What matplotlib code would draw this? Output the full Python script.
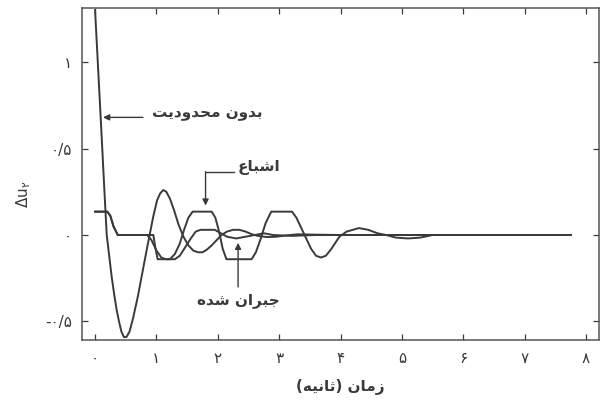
import numpy as np
import matplotlib.pyplot as plt

# --- data (time in s, value of delta u2) ---
t_free = [0.0, 0.05, 0.10, 0.15, 0.19, 0.23, 0.27, 0.31, 0.35, 0.39, 0.43, 0.47, 0.51,
          0.56, 0.62, 0.70, 0.78, 0.85, 0.90, 0.95, 1.01, 1.06, 1.11, 1.16, 1.22, 1.29,
          1.36, 1.44, 1.52, 1.60, 1.68, 1.75, 1.82, 1.90, 1.98, 2.06, 2.15, 2.25, 2.35,
          2.45, 2.55, 2.65, 2.80, 2.95, 3.10, 3.30, 3.60, 4.00, 7.75]
v_free = [1.30, 0.96, 0.62, 0.27, 0.0, -0.12, -0.24, -0.34, -0.43, -0.50, -0.56, -0.59,
          -0.59, -0.56, -0.48, -0.35, -0.20, -0.07, 0.02, 0.11, 0.20, 0.24, 0.26, 0.25,
          0.21, 0.14, 0.06, -0.01, -0.06, -0.09, -0.10, -0.10, -0.085, -0.06, -0.03,
          0.0, 0.02, 0.03, 0.03, 0.02, 0.005, -0.005, -0.012, -0.01, -0.003, 0.004,
          0.002, 0.0, 0.0]

t_sat = [0.0, 0.20, 0.25, 0.30, 0.37, 0.95, 0.98, 1.02, 1.22, 1.30, 1.38, 1.45, 1.52,
         1.59, 1.90, 1.96, 2.02, 2.08, 2.14, 2.55, 2.62, 2.70, 2.78, 2.87, 3.21, 3.28,
         3.36, 3.44, 3.52, 3.60, 3.68, 3.76, 3.85, 3.98, 4.10, 4.30, 4.45, 4.60, 4.74,
         4.90, 5.10, 5.30, 5.50, 7.75]
v_sat = [0.135, 0.135, 0.11, 0.05, 0.0, 0.0, -0.07, -0.14, -0.14, -0.11, -0.05, 0.03,
         0.10, 0.135, 0.135, 0.10, 0.02, -0.08, -0.14, -0.14, -0.10, -0.02, 0.07, 0.135,
         0.135, 0.10, 0.04, -0.02, -0.08, -0.12, -0.13, -0.12, -0.08, -0.01, 0.02, 0.04,
         0.03, 0.01, 0.0, -0.015, -0.02, -0.015, 0.0, 0.0]

t_comp = [0.0, 0.20, 0.25, 0.30, 0.37, 0.85, 0.92, 1.00, 1.08, 1.15, 1.30, 1.38, 1.47,
          1.56, 1.64, 1.72, 1.95, 2.05, 2.15, 2.30, 2.45, 2.60, 2.75, 2.90, 3.20, 3.60,
          7.75]
v_comp = [0.135, 0.135, 0.11, 0.05, 0.0, 0.0, -0.03, -0.09, -0.13, -0.14, -0.14, -0.12,
          -0.07, -0.02, 0.02, 0.03, 0.03, 0.01, -0.01, -0.02, -0.01, 0.0, 0.01, 0.0,
          -0.005, 0.0, 0.0]

x_ticks = [0, 1, 2, 3, 4, 5, 6, 7, 8]
x_ticklabels = ['۰', '۱', '۲', '۳', '۴', '۵', '۶', '۷', '۸']
y_ticks = [-0.5, 0, 0.5, 1]
y_ticklabels = ['-۰/۵', '۰', '۰/۵', '۱']

label_free = 'بدون محدودیت'
label_sat = 'اشباع'
label_comp = 'جبران شده'
x_label = 'زمان (ثانیه)'

# minimal arabic/persian shaping (matplotlib has no bidi / joining)
FORMS = {
    'ا': ('\uFE8D', '\uFE8E', None, None),
    'ب': ('\uFE8F', '\uFE90', '\uFE91', '\uFE92'),
    'ت': ('\uFE95', '\uFE96', '\uFE97', '\uFE98'),
    'ث': ('\uFE99', '\uFE9A', '\uFE9B', '\uFE9C'),
    'ج': ('\uFE9D', '\uFE9E', '\uFE9F', '\uFEA0'),
    'ح': ('\uFEA1', '\uFEA2', '\uFEA3', '\uFEA4'),
    'د': ('\uFEA9', '\uFEAA', None, None),
    'ر': ('\uFEAD', '\uFEAE', None, None),
    'ز': ('\uFEAF', '\uFEB0', None, None),
    'ش': ('\uFEB5', '\uFEB6', '\uFEB7', '\uFEB8'),
    'ع': ('\uFEC9', '\uFECA', '\uFECB', '\uFECC'),
    'م': ('\uFEE1', '\uFEE2', '\uFEE3', '\uFEE4'),
    'ن': ('\uFEE5', '\uFEE6', '\uFEE7', '\uFEE8'),
    'ه': ('\uFEE9', '\uFEEA', '\uFEEB', '\uFEEC'),
    'و': ('\uFEED', '\uFEEE', None, None),
    'ی': ('\uFBFC', '\uFBFD', '\uFEF3', '\uFEF4'),
}


def fa(s):
    out = []
    for i, ch in enumerate(s):
        if ch not in FORMS:
            out.append(ch)
            continue
        prev = s[i - 1] if i > 0 else ''
        nxt = s[i + 1] if i + 1 < len(s) else ''
        jp = prev in FORMS and FORMS[prev][2] is not None
        jn = FORMS[ch][2] is not None and nxt in FORMS
        iso, fin, ini, med = FORMS[ch]
        out.append(med if (jp and jn) else ini if jn else fin if jp else iso)
    return ''.join(reversed(out)).translate(str.maketrans('()', ')('))


plt.rcParams['font.family'] = ['DejaVu Sans']
ink = '#3a3a3a'
fig = plt.figure(figsize=(6.02, 4.0), dpi=100)
ax = fig.add_axes([0.136, 0.15, 0.859, 0.829])

ax.plot(t_free, v_free, color=ink, lw=1.4)
ax.plot(t_sat, v_sat, color=ink, lw=1.4)
ax.plot(t_comp, v_comp, color=ink, lw=1.4)

ax.set_xlim(-0.215, 8.21)
ax.set_ylim(-0.607, 1.31)
ax.set_xticks(x_ticks)
ax.set_xticklabels(x_ticklabels)
ax.set_yticks(y_ticks)
ax.set_yticklabels(y_ticklabels)
ax.tick_params(direction='in', length=4.5, width=0.9, colors=ink, labelsize=11,
               top=True, right=True)
ax.tick_params(axis='x', pad=8)
ax.tick_params(axis='y', pad=7)
for sp in ax.spines.values():
    sp.set_color('#555555')
    sp.set_linewidth(1.1)

tfont = dict(fontsize=11, fontweight='bold', color=ink)
ax.set_xlabel(fa(x_label), labelpad=9, **tfont)
ax.set_ylabel(r'$\Delta \mathrm{u}_{\mathrm{۲}}$', fontsize=11, color=ink)
ax.yaxis.set_label_coords(-0.095, 0.44)

arr = dict(arrowstyle='-|>', color=ink, lw=1.0, mutation_scale=9, shrinkA=0, shrinkB=0)

# unconstrained
ax.annotate('', xy=(0.13, 0.68), xytext=(0.78, 0.68), arrowprops=arr)
ax.text(0.92, 0.70, fa(label_free), ha='left', va='center', **tfont)

# saturation
ax.plot([2.27, 1.80], [0.366, 0.366], color=ink, lw=1.0)
ax.annotate('', xy=(1.80, 0.17), xytext=(1.80, 0.366), arrowprops=arr)
ax.text(2.32, 0.39, fa(label_sat), ha='left', va='center', **tfont)

# compensated
ax.annotate('', xy=(2.33, -0.045), xytext=(2.33, -0.30), arrowprops=arr)
ax.text(2.33, -0.38, fa(label_comp), ha='center', va='center', **tfont)

fig.savefig('out.png', dpi=100)
